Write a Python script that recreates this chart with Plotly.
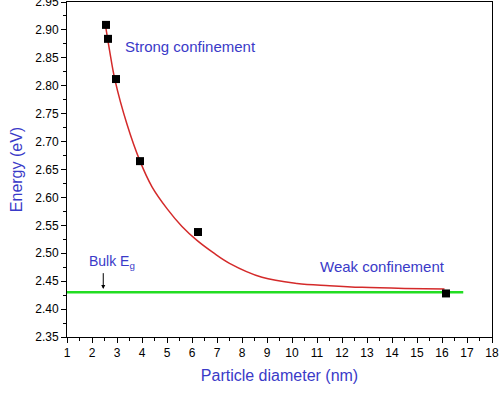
import plotly.graph_objects as go

# measured data points
diam_pts = [2.56, 2.64, 2.96, 3.92, 6.24, 16.16]
energy_pts = [2.909, 2.884, 2.812, 2.665, 2.538, 2.428]

# red fitted curve
curve_x = [2.55, 2.7, 2.92, 3.4, 3.92, 4.4, 5.0, 5.6, 6.2, 6.85, 7.5, 8.8, 10.2, 11.5, 12.8, 14.5, 16.1]
curve_y = [2.905, 2.864, 2.810, 2.731, 2.665, 2.619, 2.580, 2.548, 2.523, 2.501, 2.482, 2.457, 2.446, 2.442, 2.439, 2.437, 2.436]

# bulk band gap line
bulk_x = [1, 16.85]
bulk_y = [2.43, 2.43]

# y tick labels
y_ticks = [2.35, 2.40, 2.45, 2.50, 2.55, 2.60, 2.65, 2.70, 2.75, 2.80, 2.85, 2.90, 2.95]

blue = "#3a3ac8"

fig = go.Figure()
fig.add_trace(go.Scatter(x=bulk_x, y=bulk_y, mode="lines",
                         line=dict(color="#22dd22", width=2.5), showlegend=False))
fig.add_trace(go.Scatter(x=curve_x, y=curve_y, mode="lines", line_shape="spline",
                         line=dict(color="#d42a2a", width=1.5), showlegend=False))
fig.add_trace(go.Scatter(x=diam_pts, y=energy_pts, mode="markers",
                         marker=dict(symbol="square", size=8, color="black"), showlegend=False))

fig.add_annotation(x=3.24, y=2.871, text="Strong confinement", showarrow=False,
                   xanchor="left", yanchor="middle", font=dict(color=blue, size=15, family="Arial"))
fig.add_annotation(x=11.04, y=2.477, text="Weak confinement", showarrow=False,
                   xanchor="left", yanchor="middle", font=dict(color=blue, size=15, family="Arial"))
fig.add_annotation(x=1.8, y=2.484, text="Bulk E<sub>g</sub>", showarrow=False,
                   xanchor="left", yanchor="middle", font=dict(color=blue, size=14, family="Arial"))
fig.add_annotation(x=2.45, y=2.436, ax=2.45, ay=2.467, xref="x", yref="y", axref="x", ayref="y",
                   showarrow=True, arrowhead=2, arrowsize=0.8, arrowwidth=1, arrowcolor="black", text="")

fig.update_layout(
    width=501, height=396,
    margin=dict(l=67, r=9, t=2, b=59),
    plot_bgcolor="white", paper_bgcolor="white",
    font=dict(family="Arial", size=12, color="black"),
)
fig.update_xaxes(
    range=[1, 18], dtick=1, tick0=1, ticks="outside", ticklen=5, tickcolor="black",
    ticklabeloverflow="allow", automargin=False,
    showline=True, linecolor="black", linewidth=1, mirror=True, showgrid=False, zeroline=False,
    minor=dict(dtick=0.5, ticks="outside", ticklen=3, tickcolor="black"),
    title=dict(text="Particle diameter (nm)", font=dict(color=blue, size=16), standoff=10),
)
fig.update_yaxes(
    range=[2.35, 2.95], tickmode="array", tickvals=y_ticks,
    ticktext=[f"{v:.2f}" for v in y_ticks], ticks="outside", ticklen=5,
    ticklabeloverflow="allow", automargin=False,
    tickcolor="black", showline=True, linecolor="black", linewidth=1, mirror=True,
    showgrid=False, zeroline=False,
    minor=dict(tick0=2.35, dtick=0.025, ticks="outside", ticklen=3, tickcolor="black"),
    title=dict(text="Energy (eV)", font=dict(color=blue, size=16), standoff=8),
)

fig.write_html("out.html")
